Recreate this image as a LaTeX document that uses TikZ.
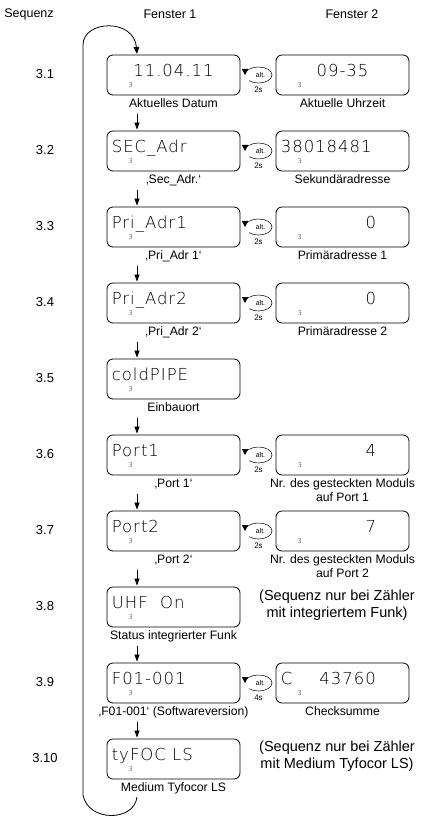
\documentclass[tikz,border=0pt]{standalone}
\usepackage{fontspec}
\setmainfont{Liberation Sans}
\newfontfamily\lcdfont[LetterSpace=6]{DejaVu Sans ExtraLight}
\newfontfamily\smallthree{DejaVu Sans ExtraLight}
\usetikzlibrary{arrows.meta}

\newcommand{\leftunit}[3]{%
  \node[seqnum] (n#1) at (45,#2-1) {3.#1};
  \node[lcdbox] (L#1) at (173.5,#2) {};
  \node[tinythree] (L#1d) at ([xshift=24pt,yshift=10pt]L#1.south west) {3};
  \node[leftlab] (Lab#1) at ([yshift=-9.5pt]L#1.south) {#3};
}
\newcommand{\rightunit}[3]{%
  \node[lcdbox] (R#1) at (342.5,#2) {};
  \node[tinythree] (R#1d) at ([xshift=24pt,yshift=10pt]R#1.south west) {3};
  \node[rightlab, anchor=north] (RLab#1) at ([yshift=-3pt]R#1.south) {#3};
}
\newcommand{\altunit}[3]{%
  \coordinate (#1c) at (258.5,#2);
  \node[alttext] (#1) at (260.5,#2) {alt.};
  \node[timetext] (#1t) at (258.5,#2+15) {#3};
  \draw[altarc] ([shift={(225:13.5pt and 8pt)}]#1c) arc[start angle=225,end angle=540,x radius=13.5pt,y radius=8pt];
}

\begin{document}
\begin{tikzpicture}[x=1pt,y=-1pt,
  lcdbox/.style={draw,line width=0.8pt,rounded corners=6pt,minimum width=133pt,minimum height=40pt,inner sep=0pt},
  lcd/.style={font=\lcdfont\fontsize{16.5}{16.5}\selectfont,inner sep=0pt,text height=11pt,text depth=0pt},
  tinythree/.style={font=\smallthree\fontsize{6.5}{6.5}\selectfont,inner sep=0pt},
  leftlab/.style={font=\fontsize{12.2}{14}\selectfont,inner sep=0pt,text height=8.5pt,text depth=2.5pt},
  rightlab/.style={font=\fontsize{12.2}{14.5}\selectfont,inner sep=0pt,align=center},
  head/.style={font=\fontsize{12.5}{14}\selectfont,inner sep=0pt},
  seqnum/.style={font=\fontsize{13}{14}\selectfont,inner sep=0pt},
  note/.style={font=\fontsize{14.5}{17}\selectfont,inner sep=0pt,align=center},
  alttext/.style={font=\fontsize{7}{7}\selectfont,inner sep=0pt},
  timetext/.style={font=\fontsize{8}{8}\selectfont,inner sep=0pt},
  flowarrow/.style={line width=0.7pt,-{Triangle[length=7pt,width=5pt]},shorten <=3pt,shorten >=1pt},
  loopline/.style={line width=0.8pt,-{Triangle[length=7pt,width=5.5pt]}},
  altarc/.style={line width=0.5pt,-{Triangle[length=6pt,width=6pt]}},
]
\useasboundingbox (0,0) rectangle (427,818);

% headers
\node[head] (hseq) at (29,14) {Sequenz};
\node[head] (hf1) at (170,14) {Fenster 1};
\node[head] (hf2) at (352,14) {Fenster 2};

% rows (left column)
\leftunit{1}{75}{Aktuelles Datum}
\leftunit{2}{151}{‚Sec\_Adr.‘}
\leftunit{3}{227}{‚Pri\_Adr 1‘}
\leftunit{4}{303}{‚Pri\_Adr 2‘}
\leftunit{5}{379}{Einbauort}
\leftunit{6}{455}{‚Port 1‘}
\leftunit{7}{531}{‚Port 2‘}
\leftunit{8}{607}{Status integrierter Funk}
\leftunit{9}{683}{‚F01-001‘ (Softwareversion)}
\leftunit{10}{759}{Medium Tyfocor LS}

% right column
\rightunit{1}{75}{Aktuelle Uhrzeit}
\rightunit{2}{151}{Sekundäradresse}
\rightunit{3}{227}{Primäradresse 1}
\rightunit{4}{303}{Primäradresse 2}
\rightunit{6}{455}{Nr. des gesteckten Moduls\\auf Port 1}
\rightunit{7}{531}{Nr. des gesteckten Moduls\\auf Port 2}
\rightunit{9}{683}{Checksumme}

% alternation markers
\altunit{alt1}{75}{2s}
\altunit{alt2}{151}{2s}
\altunit{alt3}{227}{2s}
\altunit{alt4}{303}{2s}
\altunit{alt6}{455}{2s}
\altunit{alt7}{531}{2s}
\altunit{alt9}{683}{4s}

% notes
\node[note] (note8) at (337,605) {(Sequenz nur bei Zähler\\mit integriertem Funk)};
\node[note] (note10) at (337,756) {(Sequenz nur bei Zähler\\mit Medium Tyfocor LS)};

% display contents
\node[lcd] (L1v) at ([yshift=4pt]L1.center) {11.04.11};
\node[lcd,anchor=west] (L2v) at ([xshift=5pt,yshift=4pt]L2.west) {SEC\_Adr};
\node[lcd,anchor=west] (L3v) at ([xshift=5pt,yshift=4pt]L3.west) {Pri\_Adr1};
\node[lcd,anchor=west] (L4v) at ([xshift=5pt,yshift=4pt]L4.west) {Pri\_Adr2};
\node[lcd,anchor=west] (L5v) at ([xshift=5pt,yshift=4pt]L5.west) {coldPIPE};
\node[lcd,anchor=west] (L6v) at ([xshift=5pt,yshift=4pt]L6.west) {Port1};
\node[lcd,anchor=west] (L7v) at ([xshift=5pt,yshift=4pt]L7.west) {Port2};
\node[lcd,anchor=west] (L8v) at ([xshift=5pt,yshift=4pt]L8.west) {UHF\ \ On};
\node[lcd,anchor=west] (L9v) at ([xshift=5pt,yshift=4pt]L9.west) {F01-001};
\node[lcd,anchor=west] (L10v) at ([xshift=5pt,yshift=4pt]L10.west) {tyFOC LS};

\node[lcd] (R1v) at ([yshift=4pt]R1.center) {09-35};
\node[lcd,anchor=west] (R2v) at ([xshift=5pt,yshift=4pt]R2.west) {38018481};
\node[lcd,anchor=east] (R3v) at ([xshift=-33pt,yshift=4pt]R3.east) {0};
\node[lcd,anchor=east] (R4v) at ([xshift=-33pt,yshift=4pt]R4.east) {0};
\node[lcd,anchor=east] (R6v) at ([xshift=-33pt,yshift=4pt]R6.east) {4};
\node[lcd,anchor=east] (R7v) at ([xshift=-33pt,yshift=4pt]R7.east) {7};
\node[lcd,anchor=west] (R9v) at ([xshift=5pt,yshift=4pt]R9.west) {\makebox[95pt][s]{C\hfill 43760}};

% flow arrows
\coordinate (ax) at (137,0);
\foreach \i/\j in {1/2,2/3,3/4,4/5,5/6,6/7,7/8,8/9,9/10}
  \draw[flowarrow] (Lab\i.south -| ax) -- (L\j.north -| ax);

% return loop
\coordinate (loopTop) at (83,45);
\coordinate (loopBot) at (83,795);
\coordinate (loopIn) at (137,54);
\coordinate (loopOut) at (137,797);
\draw[loopline] (loopOut) .. controls (134,822) and (88,822) .. (loopBot) -- (loopTop) .. controls (83,20) and (134,18) .. (loopIn);
\end{tikzpicture}
\end{document}
